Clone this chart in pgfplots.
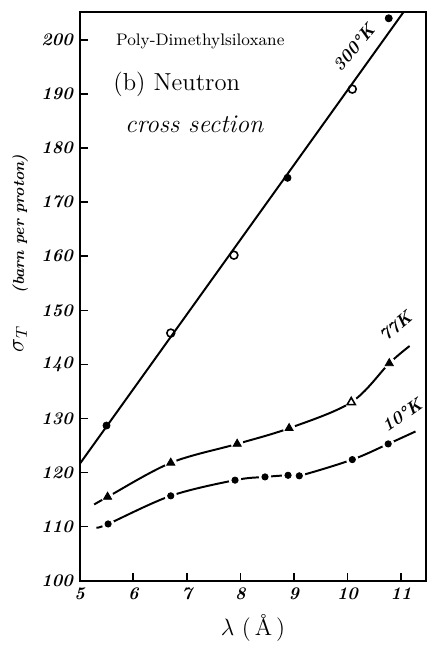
\documentclass[border=0pt]{standalone}
\usepackage{fontspec}
\usepackage{pgfplots}
\pgfplotsset{compat=1.18}
\begin{document}
\begin{tikzpicture}
\begin{axis}[
  scale only axis, width=176pt, height=289pt,
  xmin=5, xmax=11.47, ymin=100, ymax=205.2,
  xtick={5,6,...,11}, ytick={100,110,...,200},
  tick pos=left, tick align=inside, major tick length=4pt,
  axis line style={line width=1pt},
  tick style={line width=0.8pt, black},
  /pgf/number format/assume math mode=true,
  tick label style={font=\fontsize{9}{10}\selectfont\bfseries\itshape},
  clip=false,
]
\coordinate (SW) at (rel axis cs:0,0);
\coordinate (NE) at (rel axis cs:1,1);
% 300 K straight line
\addplot[black, line width=1pt] coordinates {(5.0,121.6) (11.05,205.2)};
% 77 K curve
\addplot[black, line width=1pt, smooth, tension=0.55] coordinates {
(5.27,114.1) (5.52,115.5) (6.70,121.8) (7.94,125.3) (8.91,128.2) (10.07,133.0) (10.78,140.2) (11.16,143.4)};
% 10 K curve
\addplot[black, line width=1pt, smooth, tension=0.55] coordinates {
(5.31,109.8) (5.53,110.5) (6.70,115.7) (7.90,118.6) (8.46,119.2) (8.89,119.5) (9.10,119.4) (10.09,122.4) (10.76,125.3) (11.27,127.6)};
% gaps around markers on 77 K and 10 K
\addplot[only marks, mark=*, mark size=2.9pt, white, mark options={draw=white, fill=white}] coordinates {
(5.52,115.5) (6.70,121.8) (7.94,125.3) (8.91,128.2) (10.07,133.0) (10.78,140.2)
(5.53,110.5) (6.70,115.7) (7.90,118.6) (8.46,119.2) (8.89,119.5) (9.10,119.4) (10.09,122.4) (10.76,125.3)};
% 300 K markers
\addplot[only marks, mark=*, mark size=1.8pt, black] coordinates {(5.50,128.7) (8.88,174.5) (10.77,204.0)};
\addplot[only marks, mark=o, mark size=2.0pt, black, mark options={fill=white, line width=0.8pt}] coordinates {(6.70,145.8) (7.88,160.2) (10.09,190.9)};
% 77 K markers
\addplot[only marks, mark=triangle*, mark size=2.4pt, black] coordinates {(5.52,115.5) (6.70,121.8) (7.94,125.3) (8.91,128.2) (10.78,140.2)};
\addplot[only marks, mark=triangle, mark size=2.4pt, black, mark options={line width=0.8pt}] coordinates {(10.07,133.0)};
% 10 K markers
\addplot[only marks, mark=*, mark size=1.6pt, black] coordinates {(5.53,110.5) (6.70,115.7) (7.90,118.6) (8.46,119.2) (8.89,119.5) (9.10,119.4) (10.09,122.4) (10.76,125.3)};
% texts
\node[anchor=west, font=\fontsize{8.5}{10}\selectfont] at (axis cs:5.55,199.8) {Poly-Dimethylsiloxane};
\node[anchor=west, font=\fontsize{12.5}{14}\selectfont] at (axis cs:5.50,191.8) {(b) Neutron};
\node[anchor=west, font=\fontsize{13}{14}\selectfont\itshape] at (axis cs:5.72,184.4) {cross section};
\node[rotate=50, font=\fontsize{9}{10}\selectfont\bfseries\itshape] at (axis cs:10.12,198.6) {300\textdegree K};
\node[rotate=40, font=\fontsize{9}{10}\selectfont\bfseries\itshape] at (axis cs:10.90,147.0) {77K};
\node[rotate=35, font=\fontsize{9}{10}\selectfont\bfseries\itshape] at (axis cs:11.02,130.6) {10\textdegree K};
\node[rotate=90, font=\fontsize{12}{14}\selectfont] at (rel axis cs:-0.172,0.425) {$\sigma_T$};
\node[rotate=90, font=\fontsize{8}{9}\selectfont\bfseries\itshape] at (rel axis cs:-0.172,0.627) {(barn per proton)};
\node[font=\fontsize{12}{14}\selectfont] at (rel axis cs:0.5,-0.083) {$\lambda$ (\,Å\,)};
\end{axis}
\path[use as bounding box] ([xshift=-40.5pt,yshift=-29pt]SW) rectangle ([xshift=1pt,yshift=6pt]NE);
\end{tikzpicture}
\end{document}
